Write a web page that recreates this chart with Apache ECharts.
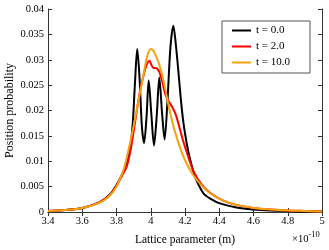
<!DOCTYPE html>
<html>
<head>
<meta charset="utf-8">
<script src="https://cdn.jsdelivr.net/npm/echarts@6/dist/echarts.min.js"></script>
<style>html,body{margin:0;padding:0;background:#fff}#c{width:329px;height:250px}</style>
</head>
<body>
<div id="c"></div>
<script>
// Lattice parameter in units of 1e-10 m
var seriesNames = ['t = 0.0', 't = 2.0', 't = 10.0'];
var xTicks = [3.4, 3.6, 3.8, 4, 4.2, 4.4, 4.6, 4.8, 5];
var yTicks = [0, 0.005, 0.01, 0.015, 0.02, 0.025, 0.03, 0.035, 0.04];

var xBlack = [3.40,3.50,3.60,3.70,3.76,3.80,3.83,3.86,3.88,3.895,3.908,3.921,3.934,3.948,3.961,3.975,3.988,4.003,4.019,4.035,4.050,4.066,4.081,4.097,4.115,4.132,4.145,4.160,4.175,4.190,4.210,4.229,4.258,4.307,4.350,4.404,4.50,4.60,4.70,4.80,4.90,5.00];
var yBlack = [0.0002,0.0004,0.0008,0.0019,0.0034,0.0053,0.0072,0.0095,0.0125,0.0175,0.0255,0.0321,0.0268,0.0170,0.0136,0.0185,0.0259,0.0195,0.0131,0.0190,0.0265,0.0195,0.0143,0.0215,0.0325,0.0367,0.0335,0.0282,0.0225,0.0178,0.0135,0.0105,0.0070,0.0037,0.0026,0.0017,0.0009,0.0005,0.0003,0.0002,0.0001,0.0001];

var xRed = [3.40,3.50,3.60,3.70,3.76,3.80,3.83,3.86,3.88,3.90,3.92,3.94,3.96,3.975,3.992,4.005,4.015,4.035,4.05,4.065,4.085,4.105,4.125,4.145,4.165,4.185,4.21,4.25,4.30,4.35,4.42,4.50,4.60,4.70,4.80,4.90,5.00];
var yRed = [0.0002,0.0004,0.0008,0.0019,0.0033,0.0052,0.0070,0.0090,0.0118,0.0158,0.0203,0.0243,0.0272,0.0289,0.0298,0.0289,0.0284,0.0283,0.0276,0.0260,0.0232,0.0218,0.0207,0.0193,0.0170,0.0145,0.0118,0.0080,0.0053,0.0037,0.0023,0.0014,0.0008,0.0005,0.0003,0.0002,0.0001];

var xOrange = [3.40,3.50,3.60,3.70,3.76,3.80,3.84,3.87,3.90,3.93,3.96,3.98,4.00,4.02,4.05,4.08,4.11,4.14,4.17,4.21,4.25,4.30,4.35,4.42,4.50,4.60,4.70,4.80,4.90,5.00];
var yOrange = [0.0002,0.0004,0.0008,0.0018,0.0032,0.0050,0.0082,0.0122,0.0170,0.0222,0.0275,0.0308,0.0321,0.0315,0.0290,0.0250,0.0200,0.0160,0.0128,0.0095,0.0072,0.0051,0.0036,0.0023,0.0014,0.0008,0.0005,0.0003,0.0002,0.0001];

function pairs(xs, ys) { return xs.map(function (x, i) { return [x, ys[i]]; }); }

var FONT = 'Liberation Serif';
var axisColor = '#333';
var chart = echarts.init(document.getElementById('c'), null, {renderer: 'canvas'});

var xMin = xTicks[0], xMax = xTicks[xTicks.length - 1], xInt = 0.2;
var yMin = yTicks[0], yMax = yTicks[yTicks.length - 1], yInt = 0.005;

function mkSeries(name, data, color) {
  return {
    name: name, type: 'line', data: data, smooth: 0.3, symbol: 'none',
    lineStyle: {color: color, width: 2}, itemStyle: {color: color},
    xAxisIndex: 0, yAxisIndex: 0, animation: false
  };
}

chart.setOption({
  animation: false,
  grid: {left: 48, right: 7, top: 9, bottom: 38, containLabel: false, outerBoundsMode: 'none'},
  legend: {
    left: 222, top: 21, orient: 'vertical',
    data: seriesNames,
    icon: 'rect',
    itemWidth: 19, itemHeight: 2, itemGap: 3,
    padding: [3, 20, 4, 10],
    borderColor: '#555', borderWidth: 1, backgroundColor: '#fff',
    textStyle: {fontFamily: FONT, fontSize: 11, color: '#000', lineHeight: 13}
  },
  xAxis: [{
    type: 'value', min: xMin, max: xMax, interval: xInt,
    name: 'Lattice parameter (m)', nameLocation: 'middle', nameGap: 22,
    nameTextStyle: {fontFamily: FONT, fontSize: 11.5, color: '#000'},
    axisLine: {show: true, lineStyle: {color: axisColor, width: 1}},
    axisTick: {show: true, inside: true, length: 4, lineStyle: {color: axisColor}},
    axisLabel: {fontFamily: FONT, fontSize: 10.5, color: '#000', margin: 4,
      formatter: function (v) { return String(Number(v.toFixed(1))); }},
    splitLine: {show: false}
  }, {
    type: 'value', position: 'top', min: xMin, max: xMax, interval: xInt,
    axisLine: {show: true, lineStyle: {color: axisColor, width: 1}},
    axisTick: {show: true, inside: true, length: 4, lineStyle: {color: axisColor}},
    axisLabel: {show: false}, splitLine: {show: false}
  }],
  yAxis: [{
    type: 'value', min: yMin, max: yMax, interval: yInt,
    name: 'Position probability', nameLocation: 'middle', nameGap: 32,
    nameMoveOverlap: false,
    nameTextStyle: {fontFamily: FONT, fontSize: 12, color: '#000'},
    axisLine: {show: true, lineStyle: {color: axisColor, width: 1}},
    axisTick: {show: true, inside: true, length: 4, lineStyle: {color: axisColor}},
    axisLabel: {fontFamily: FONT, fontSize: 10.5, color: '#000', margin: 4,
      formatter: function (v) { return String(Number(v.toFixed(3))); }},
    splitLine: {show: false}
  }, {
    type: 'value', position: 'right', min: yMin, max: yMax, interval: yInt,
    axisLine: {show: true, lineStyle: {color: axisColor, width: 1}},
    axisTick: {show: true, inside: true, length: 4, lineStyle: {color: axisColor}},
    axisLabel: {show: false}, splitLine: {show: false}
  }],
  graphic: [{
    type: 'text', left: 292, top: 230,
    style: {
      rich: {
        a: {fontFamily: FONT, fontSize: 10.5, fill: '#000', verticalAlign: 'bottom'},
        s: {fontFamily: FONT, fontSize: 8.5, fill: '#000', verticalAlign: 'top', padding: [0, 0, 6, 0]}
      },
      text: '{a|\u00d710}{s|-10}'
    }
  }],
  series: [
    mkSeries(seriesNames[0], pairs(xBlack, yBlack), '#000000'),
    mkSeries(seriesNames[1], pairs(xRed, yRed), '#ff0000'),
    mkSeries(seriesNames[2], pairs(xOrange, yOrange), '#f2a30f')
  ]
});
</script>
</body>
</html>
